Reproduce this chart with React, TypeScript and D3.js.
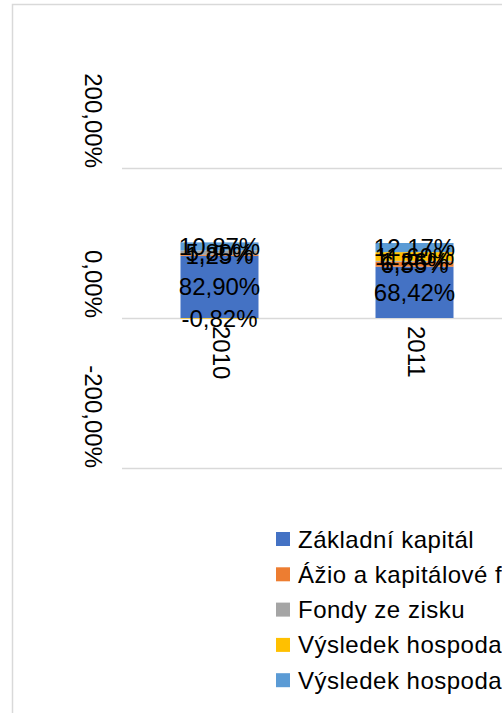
import * as d3 from 'd3'

const categories = ['2010', '2011']
const seriesNames = [
  'Základní kapitál',
  'Ážio a kapitálové fondy',
  'Fondy ze zisku',
  'Výsledek hospodaření minulých let',
  'Výsledek hospodaření běžného účetního období',
]
const zakladniKapital = [82.9, 68.42]
const azioFondy = [1.25, 6.55]
const fondyZeZisku = [5.8, 1.26]
const vhMinulych = [-0.82, 11.6]
const vhBezneho = [10.87, 12.17]
const yTicks = [-200, 0, 200]
const colors = ['#4472C4', '#ED7D31', '#A5A5A5', '#FFC000', '#5B9BD5']

const W = 502
const H = 713
const FONT = '"Liberation Sans", Arial, sans-serif'

const fmt = (v: number) => v.toFixed(2).replace('.', ',') + '%'

export default function App() {
  const seriesValues = [zakladniKapital, azioFondy, fondyZeZisku, vhMinulych, vhBezneho]
  const rows = categories.map((c, i) => {
    const r: Record<string, any> = { cat: c }
    seriesNames.forEach((s, k) => (r[s] = seriesValues[k][i]))
    return r
  })
  const stacked = d3.stack<any>().keys(seriesNames).offset(d3.stackOffsetDiverging)(rows)

  const x = d3.scaleBand().domain(categories).range([122, 512]).paddingInner(0.6).paddingOuter(0.3)
  const y = d3.scaleLinear().domain([-200, 200]).range([468, 168])
  const bw = x.bandwidth()

  return (
    <svg width={W} height={H} style={{ position: 'absolute', left: 0, top: 0, background: '#fff' }} fontFamily={FONT}>
      <rect x={12.5} y={4.5} width={W + 50} height={H + 50} fill="#fff" stroke="#d9d9d9" strokeWidth={1.5} />

      {/* gridlines */}
      {yTicks.map(t => (
        <line key={t} x1={122} x2={W + 10} y1={Math.round(y(t)) + 0.5} y2={Math.round(y(t)) + 0.5} stroke="#d9d9d9" strokeWidth={1.5} />
      ))}

      {/* y tick labels, rotated */}
      {yTicks.map(t => (
        <text key={t} transform={`translate(93,${y(t)}) rotate(90)`} textAnchor="end" dominantBaseline="central" fontSize={24} fill="#000">
          {fmt(t)}
        </text>
      ))}

      {/* bars */}
      {stacked.map((s, k) => (
        <g key={s.key} fill={colors[k]}>
          {s.map((d, i) => (
            <rect key={i} x={x(categories[i])} width={bw} y={y(Math.max(d[0], d[1]))} height={Math.abs(y(d[0]) - y(d[1]))} />
          ))}
        </g>
      ))}

      {/* category labels */}
      {categories.map(c => (
        <text key={c} transform={`translate(${x(c)! + bw / 2 + 2},${y(0) + 8}) rotate(90)`} textAnchor="start" dominantBaseline="central" fontSize={24} fill="#000">
          {c}
        </text>
      ))}

      {/* data labels */}
      {stacked.map(s => (
        <g key={s.key}>
          {s.map((d, i) => (
            <text key={i} x={x(categories[i])! + bw / 2} y={y((d[0] + d[1]) / 2)} textAnchor="middle" dominantBaseline="central" fontSize={24} fill="#000">
              {fmt(rows[i][s.key])}
            </text>
          ))}
        </g>
      ))}

      {/* legend */}
      {seriesNames.map((s, k) => (
        <g key={s} transform={`translate(276,${539 + k * 35.3})`}>
          <rect x={0} y={-7} width={14} height={14} fill={colors[k]} />
          <text x={22} y={0} dominantBaseline="central" fontSize={24} letterSpacing={0.5} fill="#000">{s}</text>
        </g>
      ))}
    </svg>
  )
}
